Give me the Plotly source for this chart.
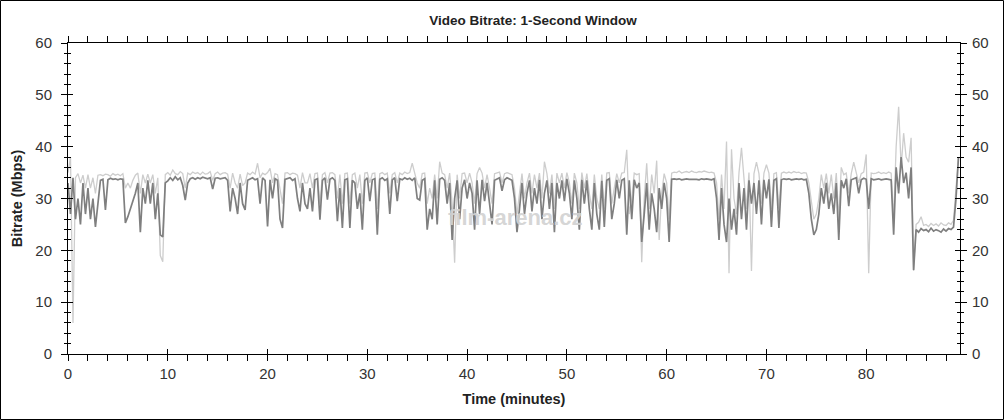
import numpy as np
import plotly.graph_objects as go

step_min = 0.25
bitrate_mbps = [
    33, 27, 34, 26,  30, 25, 33, 27,  32, 26, 30, 24.5,  29, 33.5, 33.7, 27.8,
    33.6, 33.9, 33.7, 33.8,  33.6, 33.8, 33.7, 25.3,  26.5, 28, 29.5, 31,  33, 23.5, 32, 29,
    33.5, 29, 33, 26,  31, 23, 22.6, 33,  33.4, 34, 33.5, 34.2,  33.6, 34, 32.5, 29.7,
    33, 33.8, 34, 33.7,  34, 33.8, 34.1, 33.9,  33.8, 34, 31.8, 33.9,  34, 33.8, 33.9, 34,
    33.5, 27.5, 32, 30,  27, 33, 29, 27.8,  33.5, 33.7, 34, 33.6,  33.8, 29, 34, 33.5,
    24.6, 33.6, 30, 33.8,  33.5, 26, 24.3, 33.7,  33.8, 34, 33.5, 33.8,  30, 27.5, 33, 29,
    28, 32, 27.5, 33.6,  33.8, 25.9, 33.5, 34,  29.8, 33.7, 34, 33.5,  25.6, 32, 24.3, 33.6,
    33.8, 24.3, 33.5, 33,  28, 31, 24, 33.5,  34, 29.5, 33.6, 33.8,  23, 33.7, 34, 33.5,
    33.8, 27, 33.6, 34,  29.5, 33.8, 33.6, 34,  33.7, 33.9, 33.5, 34,  30, 29.7, 33.5, 33.8,
    24, 28, 26, 33.5,  25, 33.7, 34, 33.5,  29, 33, 22, 30,  33.5, 26, 32, 33.6,
    30, 33, 31, 24,  33.5, 27, 33.6, 29.5,  33, 29.5, 25, 33.5,  33.8, 34, 31.5, 33.6,
    34, 33.8, 33.5, 30,  23.5, 28, 33, 27,  31, 33.5, 27.5, 32,  29, 33.6, 26, 31,
    33.5, 28, 33, 23.5,  33, 30, 33.5, 29.5,  33.8, 31, 26, 33.5,  30, 24, 33.6, 29,
    33.5, 28, 24, 33,  27, 24, 33.4, 24.5,  33.5, 33.8, 26, 29,  33.6, 30, 33.5, 33.8,
    23, 33.5, 26, 33.6,  32, 33, 21.6, 27,  33, 24, 31, 28,  23.5, 32, 28, 33,
    30, 21.6, 33.7, 33.8,  33.7, 33.8, 33.6, 33.7,  33.8, 33.7, 33.7, 33.8,  33.7, 33.6, 33.8, 33.7,
    33.8, 33.7, 33.6, 33.8,  30, 22, 32, 25,  21.6, 30, 24, 28,  23, 33, 26, 32,
    24, 33.5, 29, 33,  27, 33.5, 25, 33.6,  30, 33.7, 24.5, 33.5,  33.8, 24.3, 33.6, 33.8,
    33.7, 33.8, 33.6, 33.7,  33.8, 33.7, 33.8, 33.6,  33.7, 31, 26, 23,  24, 27, 32, 29,
    33, 28, 31, 27,  33, 22, 33.5, 32,  33.8, 28.5, 33.6, 33.8,  34, 31, 33.6, 33.9,
    33.7, 28, 33.8, 33.6,  33.7, 33.8, 33.6, 33.7,  33.8, 33.7, 33.6, 23,  36, 31, 38, 33,
    35, 30, 36, 16.2,  24, 23.5, 24.2, 23.8,  24, 23.6, 24.3, 23.7,  24, 23.8, 23.5, 24.1,
    23.7, 24.2, 24, 24.5,  30, 38,
]
peak_mbps = [
    35, 38, 6, 34,  34.8, 33, 34.5, 32,  34.6, 32, 34, 31,  34.5, 34.6, 34.4, 34.7,
    34.6, 34.3, 34.8, 34.5,  34.7, 34.4, 34.8, 32,  33, 32, 33.5, 34.5,  34.9, 31, 34.6, 33,
    34.7, 33, 34.6, 31,  34, 19, 17.8, 34.6,  35, 34.5, 35.5, 34.8,  34.6, 35.2, 34.8, 32,
    34.9, 34.6, 35.1, 34.8,  35, 34.6, 35.1, 34.7,  34.8, 35.2, 33.5, 34.8,  35.1, 34.6, 34.9, 35,
    34.7, 32, 34.9, 33,  32, 34.7, 32.5, 33,  34.9, 34.6, 35.1, 34.7,  36.8, 34, 34.9, 34.6,
    35, 35.8, 33, 34.8,  34.6, 32, 29, 34.9,  35, 34.6, 34.9, 34.8,  34.5, 32, 35, 33,
    33, 34.8, 32, 34.8,  34.9, 29, 34.6, 35,  33, 34.9, 35, 34.6,  30, 34.6, 29, 34.8,
    34.9, 29, 34.6, 34.9,  32, 34.6, 29, 34.9,  35, 33, 34.8, 34.9,  28, 34.8, 35, 34.6,
    34.9, 31, 34.6, 35,  33, 34.9, 34.6, 35.1,  34.8, 35, 36.8, 34.9,  33, 32, 34.8, 34.9,
    29, 32, 30, 34.6,  30, 37.1, 34.9, 34.6,  32, 34.9, 29, 17.6,  34.6, 30, 34.8, 34.9,
    33, 34.9, 33, 29,  34.8, 36, 34.9, 32,  34.6, 32, 29, 34.8,  34.9, 35.1, 33, 34.8,
    35, 34.8, 34.6, 32,  27, 31, 34.8, 30,  33, 34.9, 31, 34.6,  32, 34.9, 30, 37.1,
    34.8, 31, 34.6, 28,  34.9, 33, 34.9, 32,  35, 33, 29, 34.9,  33, 28, 35, 32,
    34.8, 31, 28, 34.6,  30, 28, 34.6, 28,  34.9, 35, 29, 32,  34.8, 33, 34.9, 35,
    39.4, 27, 30, 34.9,  34.6, 34.8, 17.7, 30,  36.8, 28, 34.6, 31,  37.3, 22, 31, 34.8,
    33, 26, 34.9, 35.1,  35, 35.3, 34.9, 35.1,  35.2, 35, 35.3, 35.1,  35, 35.2, 35.1, 35.3,
    35.2, 35, 35.1, 34.9,  33, 26, 34.6, 28,  41, 15.6, 39.5, 30,  27, 35, 39.8, 34.6,
    28, 35, 16, 34.8,  37, 34.8, 29, 34.9,  36.5, 34.9, 28, 34.8,  35, 28, 34.9, 35.1,
    34.9, 35.1, 34.9, 35.2,  35, 35.1, 34.8, 35,  34.9, 33, 29, 26,  27, 30, 34.6, 32,
    34.8, 31, 34.6, 30,  34.9, 26, 36, 34.6,  34.9, 31, 34.8, 37,  35, 33, 34.8, 35.1,
    38.5, 15.6, 34.9, 34.8,  34.9, 35.1, 34.8, 35,  34.8, 35.1, 34.9, 26,  40, 47.7, 36, 42.6,
    38, 37, 41.7, 16,  25, 25.4, 26.5, 24.8,  25, 24.6, 25.2, 24.8,  25.1, 24.7, 25.3, 24.9,
    24.8, 25.3, 25, 25.8,  32, 38,
]
time_min = np.arange(len(bitrate_mbps)) * step_min

x_ticks = [0, 10, 20, 30, 40, 50, 60, 70, 80]
y_ticks = [0, 10, 20, 30, 40, 50, 60]
x_range = [0, 89.4]
y_range = [0, 60]

title_text = "Video Bitrate: 1-Second Window"
x_title = "Time (minutes)"
y_title = "Bitrate (Mbps)"
watermark = "film-arena.cz"

W, H = 1004, 420
ML, MR, MT, MB = 68, 44, 43, 66
PW, PH = W - ML - MR, H - MT - MB

font = "Liberation Sans, Arial, sans-serif"
tick_font = dict(family=font, size=15, color="#333333")
title_font = dict(family=font, size=14.5, color="#222222")

fig = go.Figure()
fig.add_trace(go.Scatter(x=time_min, y=peak_mbps, mode="lines",
                         line=dict(color="#cdcdcd", width=1.3), hoverinfo="skip",
                         showlegend=False))
fig.add_trace(go.Scatter(x=time_min, y=bitrate_mbps, mode="lines",
                         line=dict(color="#7f7f7f", width=1.7), showlegend=False))
# dummy traces so the extra tick axes get drawn
fig.add_trace(go.Scatter(x=[None], y=[None], xaxis="x", yaxis="y2", showlegend=False))
fig.add_trace(go.Scatter(x=[None], y=[None], xaxis="x2", yaxis="y3", showlegend=False))
fig.add_trace(go.Scatter(x=[None], y=[None], xaxis="x2", yaxis="y4", showlegend=False))

common_x = dict(range=x_range, showgrid=False, zeroline=False, fixedrange=True, automargin=False)
common_y = dict(range=y_range, showgrid=False, zeroline=False, fixedrange=True, automargin=False)

fig.update_layout(
    width=W, height=H,
    margin=dict(l=ML, r=MR, t=MT, b=MB, pad=0),
    paper_bgcolor="white", plot_bgcolor="white",
    title=dict(text="<b>" + title_text + "</b>", x=533 / W, xanchor="center",
               y=1 - 20 / H, yanchor="middle",
               font=dict(family=font, size=13.5, color="#222222")),
    xaxis=dict(**common_x, tickvals=x_ticks, ticks="outside", ticklen=6, tickcolor="black",
               showline=True, linecolor="black", linewidth=1, mirror="allticks",
               tickfont=tick_font, ticklabelstandoff=0,
               minor=dict(dtick=2, ticks="outside", ticklen=3, tickcolor="black"),
               title=dict(text="<b>" + x_title + "</b>", standoff=12, font=title_font)),
    xaxis2=dict(**common_x, overlaying="x", anchor="y", side="bottom",
                tickvals=x_ticks, ticks="inside", ticklen=5, tickcolor="black",
                showticklabels=False, showline=False),
    yaxis=dict(**common_y, tickvals=y_ticks, ticks="outside", ticklen=6, tickcolor="black",
               showline=True, linecolor="black", linewidth=1,
               tickfont=tick_font, ticklabelstandoff=6,
               minor=dict(dtick=2, ticks="outside", ticklen=3, tickcolor="black"),
               title=dict(text="<b>" + y_title + "</b>", standoff=9, font=title_font)),
    yaxis2=dict(**common_y, overlaying="y", side="right", anchor="x",
                tickvals=y_ticks, ticks="outside", ticklen=6, tickcolor="black",
                showline=True, linecolor="black", linewidth=1, tickfont=tick_font,
                ticklabelstandoff=2,
                minor=dict(dtick=2, ticks="outside", ticklen=3, tickcolor="black")),
    yaxis3=dict(**common_y, overlaying="y", side="left", anchor="x2",
                tickvals=y_ticks, ticks="inside", ticklen=5, tickcolor="black",
                showticklabels=False, showline=False,
                minor=dict(dtick=2, ticks="inside", ticklen=3, tickcolor="black")),
    yaxis4=dict(**common_y, overlaying="y", side="right", anchor="x2",
                tickvals=y_ticks, ticks="inside", ticklen=5, tickcolor="black",
                showticklabels=False, showline=False,
                minor=dict(dtick=2, ticks="inside", ticklen=3, tickcolor="black")),
    annotations=[dict(text="<b>" + watermark + "</b>", x=(515 - ML) / PW, y=(354 - 218) / PH,
                      xref="paper", yref="paper", showarrow=False,
                      font=dict(family=font, size=22, color="rgba(210,210,210,0.92)"))],
    shapes=[dict(type="rect", xref="paper", yref="paper",
                 x0=(-ML + 0.5) / PW, x1=(W - ML - 0.5) / PW,
                 y0=(-MB + 0.5) / PH, y1=(PH + MT - 0.5) / PH,
                 line=dict(color="black", width=1), fillcolor="rgba(0,0,0,0)")],
)

fig.write_html("out.html", config={"displayModeBar": False},
               post_script="document.body.style.margin='0';document.body.style.overflow='hidden';")
